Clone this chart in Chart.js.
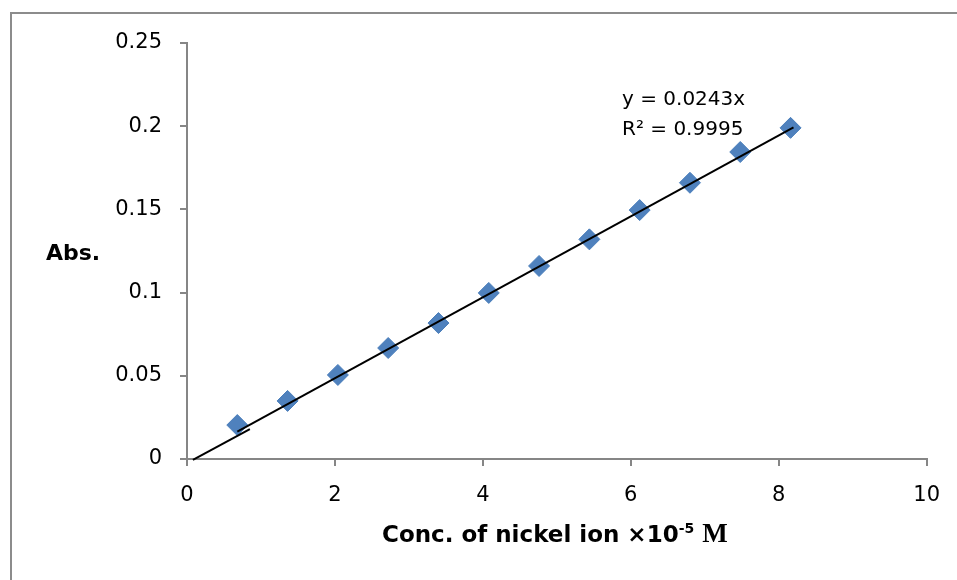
<!DOCTYPE html>
<html>
<head>
<meta charset="utf-8">
<script src="https://cdn.jsdelivr.net/npm/chart.js@4.4.0/dist/chart.umd.min.js"></script>
<style>
  body { margin: 0; background: #fff; }
  #wrap { position: relative; width: 957px; height: 580px; overflow: hidden; }
  #frame { position: absolute; left: 10px; top: 12px; width: 1000px; height: 700px;
           border-left: 2px solid #8c8c8c; border-top: 2px solid #8c8c8c; }
  canvas { position: absolute; left: 0; top: 0; }
  .lbl { position: absolute; font-family: "DejaVu Sans", sans-serif; color: #000; white-space: nowrap; }
  .bold { font-weight: bold; }
</style>
</head>
<body>
<div id="wrap">
  <div id="frame"></div>
  <canvas id="myChart" width="957" height="580"></canvas>
  <div class="lbl bold" style="left:46px; top:240px; font-size:22px;">Abs.</div>
  <div class="lbl" style="left:622px; top:86px; font-size:20px;">y = 0.0243x</div>
  <div class="lbl" style="left:622px; top:116px; font-size:20px;">R² = 0.9995</div>
  <div class="lbl bold" style="left:382px; top:518px; font-size:23px;">Conc. of nickel ion ×10<sup style="font-size:14px;">-5</sup> <span style="font-family:'Liberation Serif', serif; font-size:27px;">M</span></div>
</div>
<script>
const ctx = document.getElementById('myChart');

// données
var concX = [0.68, 1.36, 2.04, 2.72, 3.40, 4.08, 4.76, 5.44, 6.12, 6.80, 7.48, 8.16];
var absY = [0.0204, 0.0349, 0.0505, 0.0667, 0.0817, 0.0998, 0.116, 0.132, 0.1496, 0.166, 0.1845, 0.199];

// courbe de tendance (deux segments comme sur l'image)
var trendAX = [0.08, 0.85];
var trendAY = [-0.0005, 0.018];
var trendBX = [0.68, 8.2];
var trendBY = [0.0165, 0.1993];

var xTicks = [0, 2, 4, 6, 8, 10];
var yTicks = [0, 0.05, 0.1, 0.15, 0.2, 0.25];

function toPoints(xs, ys) {
  var pts = [];
  for (var i = 0; i < xs.length; i++) {
    pts.push({ x: xs[i], y: ys[i] });
  }
  return pts;
}

var axisColor = '#868686';
var tickFont = { family: 'DejaVu Sans', size: 21 };

new Chart(ctx, {
  type: 'scatter',
  data: {
    datasets: [
      {
        type: 'line',
        data: toPoints(trendAX, trendAY),
        borderColor: '#000',
        borderWidth: 2,
        pointRadius: 0,
        order: 0
      },
      {
        type: 'line',
        data: toPoints(trendBX, trendBY),
        borderColor: '#000',
        borderWidth: 2,
        pointRadius: 0,
        order: 0
      },
      {
        data: toPoints(concX, absY),
        pointStyle: 'rectRot',
        pointRadius: 10.5,
        pointHoverRadius: 10.5,
        backgroundColor: '#4F81BD',
        borderColor: '#4A7EBB',
        borderWidth: 1,
        order: 1
      }
    ]
  },
  options: {
    responsive: false,
    animation: false,
    clip: false,
    layout: { padding: { left: 0, right: 30, top: 43, bottom: 0 } },
    plugins: { legend: { display: false }, tooltip: { enabled: false } },
    scales: {
      x: {
        type: 'linear',
        min: 0,
        max: 10,
        afterBuildTicks: function (s) { s.ticks = xTicks.map(function (v) { return { value: v }; }); },
        afterFit: function (s) { s.height = 121; },
        grid: { drawOnChartArea: false, drawTicks: true, tickLength: 7, color: axisColor, lineWidth: 2 },
        border: { display: true, color: axisColor, width: 2 },
        ticks: { color: '#000', font: tickFont, padding: 17, maxRotation: 0 }
      },
      y: {
        type: 'linear',
        min: 0,
        max: 0.25,
        afterBuildTicks: function (s) { s.ticks = yTicks.map(function (v) { return { value: v }; }); },
        afterFit: function (s) { s.width = 187; },
        grid: { drawOnChartArea: false, drawTicks: true, tickLength: 7, color: axisColor, lineWidth: 2 },
        border: { display: true, color: axisColor, width: 2 },
        ticks: {
          color: '#000',
          font: tickFont,
          padding: 18,
          callback: function (v) { return String(Number(v.toFixed(2))); }
        }
      }
    }
  }
});
</script>
</body>
</html>
